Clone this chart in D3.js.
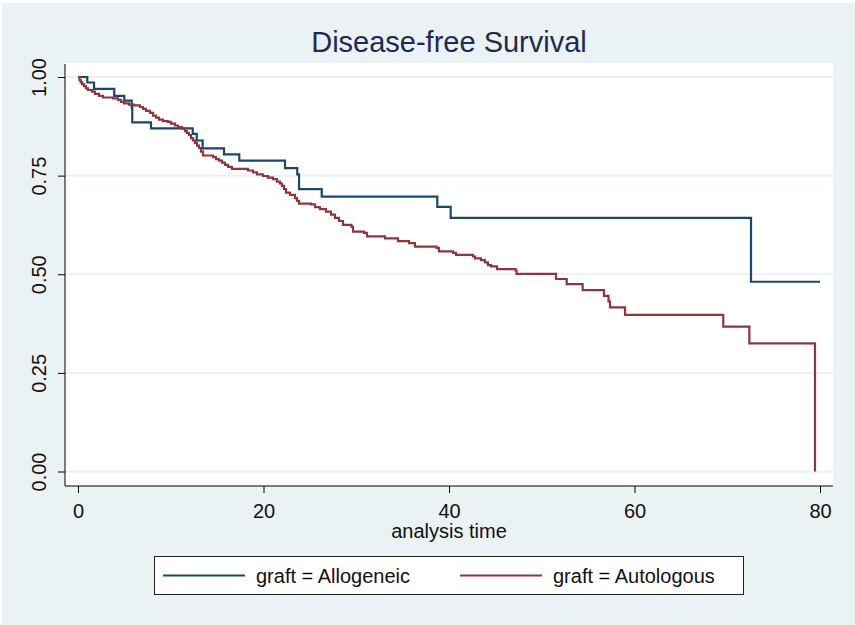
<!DOCTYPE html>
<html>
<head>
<meta charset="utf-8">
<script src="https://cdn.jsdelivr.net/npm/d3@7"></script>
<style>
  body { margin: 0; background: #ffffff; }
  svg { display: block; font-family: "Liberation Sans", Arial, sans-serif; }
</style>
</head>
<body>
<div id="chart"></div>
<script>
// Kaplan-Meier estimates
const alloTime = [0, 1.00, 1.73, 3.91, 4.99, 5.79, 5.85, 7.87, 12.37, 12.80, 13.44, 15.74, 17.39,
  22.32, 23.64, 23.83, 26.28, 38.74, 40.18, 72.56, 80.0];
const alloSurv = [1, 0.986, 0.970, 0.952, 0.940, 0.923, 0.885, 0.870, 0.856, 0.839, 0.819, 0.804, 0.788,
  0.769, 0.753, 0.716, 0.697, 0.671, 0.643, 0.481, 0.481];

const autoTime = [0, 0.16, 0.29, 0.43, 0.65, 0.86, 1.08, 1.51, 1.83, 2.26, 2.70, 3.77, 4.31, 4.64, 4.96,
  5.50, 6.04, 6.68, 7.01, 7.33, 7.76, 8.09, 8.41, 8.73, 9.16, 9.70, 10.03, 10.46, 10.78, 11.21, 11.54,
  11.75, 11.97, 12.18, 12.40, 12.61, 12.83, 13.05, 13.26, 13.48, 14.56, 14.88, 15.20, 15.53, 15.85,
  16.17, 16.60, 18.33, 18.87, 19.30, 19.95, 20.49, 21.02, 21.46, 21.78, 21.99, 22.21, 22.43, 22.86,
  23.40, 23.61, 23.83, 25.12, 25.55, 26.09, 26.74, 27.28, 27.71, 28.14, 28.57, 29.49, 29.65, 30.84,
  31.16, 33.10, 34.50, 35.69, 36.33, 38.65, 38.92, 40.43, 40.75, 42.59, 42.80, 43.45, 43.88, 44.20,
  44.53, 45.18, 47.17, 47.28, 51.54, 52.69, 54.41, 56.71, 57.20, 57.36, 58.98, 69.57, 72.38, 79.46];
const autoSurv = [1, 0.992, 0.987, 0.982, 0.977, 0.971, 0.967, 0.963, 0.957, 0.952, 0.948, 0.946, 0.942,
  0.937, 0.933, 0.930, 0.928, 0.924, 0.919, 0.914, 0.909, 0.902, 0.897, 0.892, 0.888, 0.886, 0.882,
  0.877, 0.873, 0.869, 0.863, 0.858, 0.853, 0.845, 0.839, 0.833, 0.826, 0.820, 0.811, 0.801, 0.797,
  0.792, 0.788, 0.783, 0.777, 0.772, 0.767, 0.763, 0.758, 0.753, 0.749, 0.745, 0.741, 0.735, 0.730,
  0.724, 0.716, 0.707, 0.701, 0.693, 0.686, 0.679, 0.677, 0.670, 0.665, 0.659, 0.651, 0.643, 0.635,
  0.625, 0.620, 0.608, 0.605, 0.596, 0.591, 0.584, 0.579, 0.570, 0.567, 0.558, 0.554, 0.549, 0.545,
  0.540, 0.536, 0.530, 0.523, 0.520, 0.513, 0.510, 0.501, 0.488, 0.475, 0.460, 0.445, 0.431, 0.416,
  0.397, 0.367, 0.325, 0];

const xTicks = [0, 20, 40, 60, 80];
const yTicks = [0, 0.25, 0.5, 0.75, 1];
const seriesNames = ['graft = Allogeneic', 'graft = Autologous'];
const seriesColors = ['#1a476f', '#90353b'];

const W = 855, H = 625;
const plot = { left: 65, right: 833, top: 63, bottom: 486 };

const svg = d3.select('#chart').append('svg')
  .attr('width', W)
  .attr('height', H);

// outer background
svg.append('rect').attr('x', 2).attr('y', 3).attr('width', W - 2).attr('height', H - 3)
  .attr('fill', '#eaf2f3');
svg.append('rect')
  .attr('x', plot.left).attr('y', plot.top)
  .attr('width', plot.right - plot.left).attr('height', plot.bottom - plot.top)
  .attr('fill', '#ffffff');

const x = d3.scaleLinear().domain([0, 80]).range([78, 820]);
const y = d3.scaleLinear().domain([0, 1]).range([471.5, 77]);

// gridlines
svg.append('g').attr('class', 'grid')
  .selectAll('line')
  .data(yTicks)
  .enter().append('line')
  .attr('x1', plot.left).attr('x2', plot.right)
  .attr('y1', d => y(d)).attr('y2', d => y(d))
  .style('stroke', '#eaf2f3')
  .style('stroke-width', '2px');

// curves
const line = d3.line()
  .x(d => x(d[0]))
  .y(d => y(d[1]))
  .curve(d3.curveStepAfter);
const curves = [
  d3.zip(alloTime, alloSurv),
  d3.zip(autoTime, autoSurv)
];
svg.append('g').attr('class', 'curves')
  .selectAll('path')
  .data(curves)
  .enter().append('path')
  .attr('d', line)
  .attr('fill', 'none')
  .style('stroke', (d, i) => seriesColors[i])
  .style('stroke-width', '2.2px')
  .style('stroke-linejoin', 'miter');

// y axis
const yAxis = svg.append('g')
  .attr('transform', `translate(${plot.left},0)`)
  .call(d3.axisLeft(y).tickValues(yTicks).tickFormat(d3.format('.2f')).tickSize(7).tickSizeOuter(0));
yAxis.select('.domain').remove();
yAxis.selectAll('.tick line').style('stroke', '#000');
yAxis.selectAll('.tick text')
  .attr('x', 0).attr('y', -19.5).attr('dy', null)
  .attr('transform', 'rotate(-90)')
  .attr('text-anchor', 'middle')
  .style('font-size', '20px')
  .style('font-family', '"Liberation Sans", Arial, sans-serif')
  .style('fill', '#111');
svg.append('line')
  .attr('x1', plot.left).attr('x2', plot.left)
  .attr('y1', plot.top + 1).attr('y2', plot.bottom)
  .style('stroke', '#000').style('stroke-width', '1px');

// x axis
const xAxis = svg.append('g')
  .attr('transform', `translate(0,${plot.bottom})`)
  .call(d3.axisBottom(x).tickValues(xTicks).tickSize(7).tickSizeOuter(0));
xAxis.select('.domain').remove();
xAxis.selectAll('.tick line').style('stroke', '#000');
xAxis.selectAll('.tick text')
  .attr('y', 32).attr('dy', null)
  .style('font-size', '20px')
  .style('font-family', '"Liberation Sans", Arial, sans-serif')
  .style('fill', '#111');
svg.append('line')
  .attr('x1', plot.left).attr('x2', plot.right)
  .attr('y1', plot.bottom).attr('y2', plot.bottom)
  .style('stroke', '#000').style('stroke-width', '1px');

svg.append('text')
  .attr('x', 449).attr('y', 538)
  .attr('text-anchor', 'middle')
  .style('font-size', '20px')
  .style('fill', '#111')
  .text('analysis time');

// title
svg.append('text')
  .attr('x', 449).attr('y', 52)
  .attr('text-anchor', 'middle')
  .style('font-size', '29px')
  .style('fill', '#1e2a52')
  .text('Disease-free Survival');

// legend
const legend = svg.append('g').attr('class', 'legend');
legend.append('rect')
  .attr('x', 154.5).attr('y', 556.5).attr('width', 589).attr('height', 38)
  .attr('fill', '#ffffff')
  .style('stroke', '#222').style('stroke-width', '1px');
const items = legend.selectAll('g')
  .data(seriesNames)
  .enter().append('g')
  .attr('transform', (d, i) => `translate(${i === 0 ? 163 : 460},575.5)`);
items.append('line')
  .attr('x1', 0).attr('x2', 82)
  .style('stroke', (d, i) => seriesColors[i])
  .style('stroke-width', '2.2px');
items.append('text')
  .attr('x', 93).attr('y', 7)
  .style('font-size', '20px')
  .style('fill', '#111')
  .text(d => d);
</script>
</body>
</html>
